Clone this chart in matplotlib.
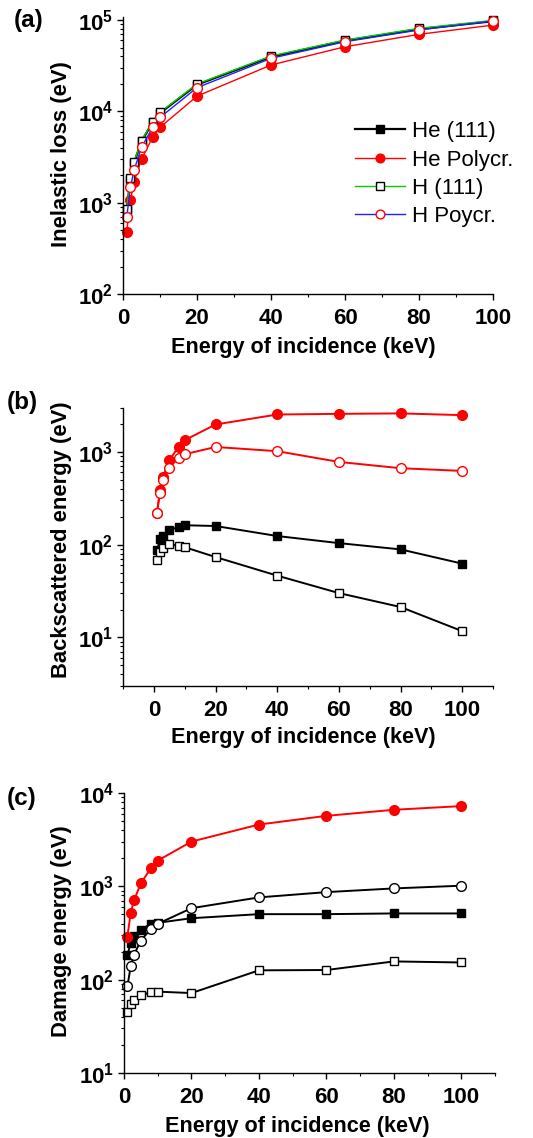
import matplotlib
matplotlib.use("Agg")
import matplotlib.pyplot as plt
from matplotlib.ticker import MultipleLocator, FuncFormatter, LogLocator
import numpy as np

plt.rcParams['font.family'] = ['Liberation Sans', 'DejaVu Sans']
plt.rcParams['mathtext.fontset'] = 'custom'
plt.rcParams['mathtext.rm'] = 'Liberation Sans:bold'
plt.rcParams['mathtext.bf'] = 'Liberation Sans:bold'
plt.rcParams['mathtext.it'] = 'Liberation Sans:bold'

# ---- data ----
energy = [1, 2, 3, 5, 8, 10, 20, 40, 60, 80, 100]

# (a) inelastic loss (eV)
a_he111 = [830, 1800, 2760, 4700, 7600, 9600, 19600, 39600, 59300, 79500, 97000]
a_hepoly = [483, 1070, 1700, 3010, 5200, 6700, 14700, 32200, 51000, 69700, 88000]
a_h111 = [849, 1850, 2830, 4790, 7730, 9780, 19950, 40400, 60400, 81100, 99000]
a_hpoly = [694, 1480, 2290, 4050, 6700, 8600, 18200, 38100, 57900, 77800, 97500]

# (b) backscattered energy (eV)
b_he111 = [87, 114, 124, 143, 155, 162, 159, 124, 104, 89, 62.5]
b_hepoly = [220, 386, 537, 814, 1132, 1337, 1974, 2530, 2570, 2600, 2490]
b_h111 = [69, 83, 92, 101, 97, 94, 73.6, 46.4, 30.1, 21.3, 11.7]
b_hpoly = [220, 365, 495, 678, 863, 944, 1130, 1018, 780, 667, 624]

# (c) damage energy (eV)
c_he111 = [183, 248, 292, 345, 397, 407, 456, 504, 504, 513, 513]
c_hepoly = [288, 521, 713, 1077, 1573, 1888, 3020, 4600, 5700, 6620, 7250]
c_h111 = [45.6, 55.2, 61, 67.9, 73.7, 74.5, 71.9, 126, 127, 157, 153]
c_hpoly = [84.7, 139, 186, 263, 351, 397, 584, 762, 868, 951, 1017]

legend_labels = ["He (111)", "He Polycr.", "H (111)", "H Poycr."]
panel_labels = ["(a)", "(b)", "(c)"]
ylabels = ["Inelastic loss (eV)", "Backscattered energy (eV)", "Damage energy (eV)"]
xlabel = "Energy of incidence (keV)"

fig = plt.figure(figsize=(5.33, 11.38), dpi=100)

axA = fig.add_axes([0.2308, 0.7414, 0.6942, 0.2437])
axB = fig.add_axes([0.2308, 0.3972, 0.6942, 0.2446])
axC = fig.add_axes([0.2326, 0.0571, 0.6961, 0.2460])

MS_C = 7.0
MS_S = 6.2

def logfmt(v, pos):
    e = int(round(np.log10(v)))
    return r'$\mathbf{10^{%d}}$' % e

def style(ax, xlim, ylim, ylab, lc_x, lc_y, xl_x, xl_y):
    ax.set_yscale('log')
    ax.set_xlim(*xlim)
    ax.set_ylim(*ylim)
    for s in ['top', 'right']:
        ax.spines[s].set_visible(False)
    for s in ['left', 'bottom']:
        ax.spines[s].set_linewidth(1.0)
    ax.xaxis.set_major_locator(MultipleLocator(20))
    ax.xaxis.set_minor_locator(MultipleLocator(10))
    ax.yaxis.set_major_locator(LogLocator(base=10))
    ax.yaxis.set_minor_locator(LogLocator(base=10, subs=np.arange(2, 10)))
    ax.yaxis.set_major_formatter(FuncFormatter(logfmt))
    ax.tick_params(which='major', direction='out', length=4, width=1,
                   labelsize=16, pad=3)
    ax.tick_params(which='minor', direction='out', length=2.2, width=0.8)
    ax.tick_params(axis='x', which='major', pad=6)
    for t in ax.get_xticklabels():
        t.set_fontweight('bold')
    ax.set_ylabel(ylab, fontsize=15.8, fontweight='bold')
    ax.yaxis.set_label_coords(lc_x, lc_y)
    ax.set_xlabel(xlabel, fontsize=15.6, fontweight='bold')
    ax.xaxis.set_label_coords(xl_x, xl_y)

# ---- panel (a) ----
l1, = axA.plot(energy, a_he111, '-s', color='black', lw=1.6, ms=MS_S,
               mfc='black', mec='black', clip_on=False, label=legend_labels[0])
l2, = axA.plot(energy, a_hepoly, '-o', color='red', lw=1.0, ms=MS_C,
               mfc='red', mec='red', clip_on=False, label=legend_labels[1])
l3, = axA.plot(energy, a_h111, '-s', color='#00d000', lw=1.0, ms=MS_S,
               mfc='white', mec='black', mew=1.0, clip_on=False, label=legend_labels[2])
l4, = axA.plot(energy, a_hpoly, '-o', color='#2020ff', lw=1.0, ms=MS_C,
               mfc='white', mec='red', mew=1.0, clip_on=False, label=legend_labels[3])
style(axA, (0, 100), (100, 1.08e5), ylabels[0], -0.138, 0.507, 0.486, -0.155)
leg = axA.legend(handles=[l1, l2, l3, l4], loc='upper left',
                 bbox_to_anchor=((355 - 123) / 370, (294 - 121) / 277.3),
                 frameon=False, fontsize=16,
                 handlelength=2.25, handletextpad=0.3, labelspacing=0.33,
                 borderpad=0, borderaxespad=0, markerscale=0.9)

# ---- panel (b) ----
axB.plot(energy, b_hepoly, '-o', color='red', lw=1.4, ms=MS_C,
         mfc='red', mec='red', clip_on=False)
axB.plot(energy, b_hpoly, '-o', color='red', lw=1.4, ms=MS_C,
         mfc='white', mec='red', mew=1.0, clip_on=False)
axB.plot(energy, b_he111, '-s', color='black', lw=1.4, ms=MS_S,
         mfc='black', mec='black', clip_on=False)
axB.plot(energy, b_h111, '-s', color='black', lw=1.4, ms=MS_S,
         mfc='white', mec='black', mew=1.0, clip_on=False)
style(axB, (-10, 110), (3, 3000), ylabels[1], -0.138, 0.526, 0.486, -0.147)

# ---- panel (c) ----
axC.plot(energy, c_he111, '-s', color='black', lw=1.4, ms=MS_S,
         mfc='black', mec='black', clip_on=False)
axC.plot(energy, c_hpoly, '-o', color='black', lw=1.4, ms=MS_C,
         mfc='white', mec='black', mew=1.0, clip_on=False)
axC.plot(energy, c_h111, '-s', color='black', lw=1.4, ms=MS_S,
         mfc='white', mec='black', mew=1.0, clip_on=False)
axC.plot(energy, c_hepoly, '-o', color='red', lw=1.4, ms=MS_C,
         mfc='red', mec='red', clip_on=False)
style(axC, (0, 110), (10, 1e4), ylabels[2], -0.14, 0.507, 0.466, -0.154)

# panel labels
fig.text(14 / 533, 1 - 21 / 1138, panel_labels[0], fontsize=17.5, fontweight='bold',
         ha='left', va='center')
fig.text(7 / 533, 1 - 402 / 1138, panel_labels[1], fontsize=17.5, fontweight='bold',
         ha='left', va='center')
fig.text(7 / 533, 1 - 798 / 1138, panel_labels[2], fontsize=17.5, fontweight='bold',
         ha='left', va='center')

fig.savefig('out.png', dpi=100)
